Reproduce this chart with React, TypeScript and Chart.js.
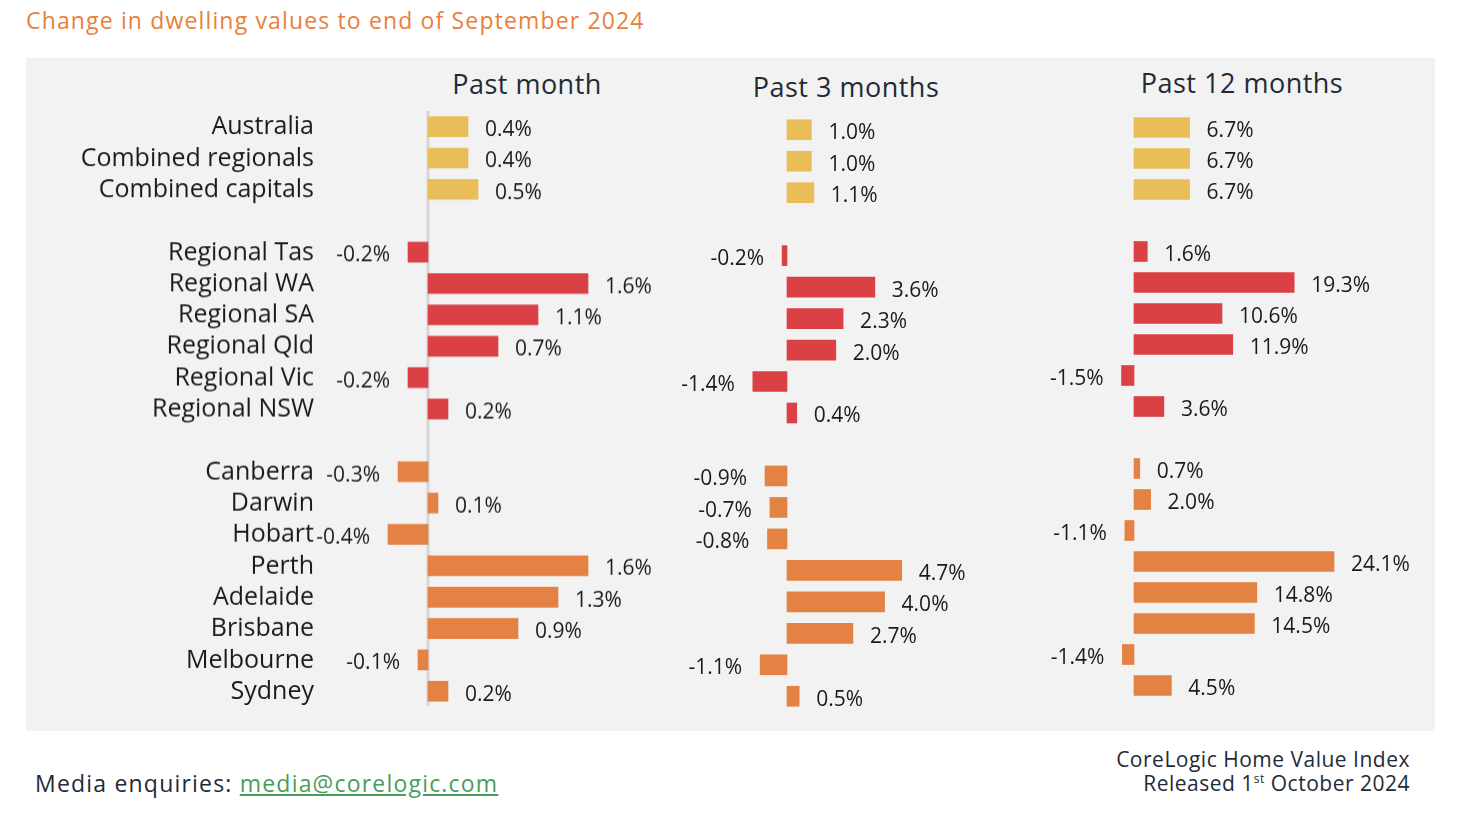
import React, { useEffect, useRef } from "react";
import { Chart, registerables } from "chart.js";

Chart.register(...registerables);

const categories = [
  "Australia",
  "Combined regionals",
  "Combined capitals",
  "",
  "Regional Tas",
  "Regional WA",
  "Regional SA",
  "Regional Qld",
  "Regional Vic",
  "Regional NSW",
  "",
  "Canberra",
  "Darwin",
  "Hobart",
  "Perth",
  "Adelaide",
  "Brisbane",
  "Melbourne",
  "Sydney",
];

const groups = ["nat", "nat", "nat", "", "reg", "reg", "reg", "reg", "reg", "reg", "", "cap", "cap", "cap", "cap", "cap", "cap", "cap", "cap"];

const pastMonth = [0.4, 0.4, 0.5, null, -0.2, 1.6, 1.1, 0.7, -0.2, 0.2, null, -0.3, 0.1, -0.4, 1.6, 1.3, 0.9, -0.1, 0.2];
const past3Months = [1.0, 1.0, 1.1, null, -0.2, 3.6, 2.3, 2.0, -1.4, 0.4, null, -0.9, -0.7, -0.8, 4.7, 4.0, 2.7, -1.1, 0.5];
const past12Months = [6.7, 6.7, 6.7, null, 1.6, 19.3, 10.6, 11.9, -1.5, 3.6, null, 0.7, 2.0, -1.1, 24.1, 14.8, 14.5, -1.4, 4.5];

const panelTitles = ["Past month", "Past 3 months", "Past 12 months"];

const groupColors: Record<string, string> = {
  nat: "#E9BE58",
  reg: "#DB4045",
  cap: "#E38243",
};

const FONT = "'Open Sans', 'Noto Sans', sans-serif";

const valueLabels = {
  id: "valueLabels",
  afterDatasetsDraw(chart: any, _args: any, opts: any) {
    const ctx = chart.ctx;
    const meta = chart.getDatasetMeta(0);
    const data = chart.data.datasets[0].data;
    ctx.save();
    ctx.font = `21px ${FONT}`;
    ctx.fillStyle = "#1b1b1b";
    ctx.textBaseline = "middle";
    meta.data.forEach((bar: any, i: number) => {
      const v = data[i];
      if (v === null || v === undefined) return;
      const { x, y } = bar.getProps(["x", "y"], true);
      const text = `${v.toFixed(1)}%`;
      if (v >= 0) {
        ctx.textAlign = "left";
        ctx.fillText(text, x + 17, y + 3.5);
      } else {
        ctx.textAlign = "right";
        ctx.fillText(text, x - 18, y + 3.5);
      }
    });
    if (opts && opts.categories) {
      const yScale = chart.scales.y;
      ctx.font = `25px ${FONT}`;
      ctx.textAlign = "right";
      ctx.fillStyle = "#1b1b1b";
      categories.forEach((c, i) => {
        if (!c) return;
        ctx.fillText(c, opts.labelRight, yScale.getPixelForValue(i) + 0.5);
      });
    }
    ctx.restore();
  },
};

const zeroLine = {
  id: "zeroLine",
  beforeDatasetsDraw(chart: any, _args: any, opts: any) {
    if (!opts || !opts.show) return;
    const ctx = chart.ctx;
    const x = chart.scales.x.getPixelForValue(0);
    const { top, bottom } = chart.chartArea;
    ctx.save();
    ctx.strokeStyle = "#d6d6d6";
    ctx.lineWidth = 3;
    ctx.beginPath();
    ctx.moveTo(x, top);
    ctx.lineTo(x, bottom + 2);
    ctx.stroke();
    ctx.restore();
  },
};

type PanelProps = {
  values: (number | null)[];
  min: number;
  max: number;
  showLabels: boolean;
  padLeft: number;
  left: number;
  top: number;
  width: number;
  height: number;
};

function Panel({ values, min, max, showLabels, padLeft, left, top, width, height }: PanelProps) {
  const ref = useRef<HTMLCanvasElement | null>(null);
  useEffect(() => {
    if (!ref.current) return;
    const chart = new Chart(ref.current, {
      type: "bar",
      data: {
        labels: categories,
        datasets: [
          {
            data: values as any,
            backgroundColor: groups.map((g) => groupColors[g] || "transparent"),
            barThickness: 20,
            borderWidth: 0,
          },
        ],
      },
      options: {
        indexAxis: "y",
        animation: false,
        responsive: true,
        maintainAspectRatio: false,
        layout: { padding: { left: padLeft, right: 0, top: 0, bottom: 0 } },
        plugins: {
          legend: { display: false },
          tooltip: { enabled: false },
          title: { display: false },
          zeroLine: { show: showLabels },
          valueLabels: { categories: showLabels, labelRight: padLeft - 8 },
        } as any,
        scales: {
          x: { display: false, min, max },
          y: { display: false },
        },
      },
      plugins: [valueLabels, zeroLine],
    });
    return () => chart.destroy();
  }, []);
  return (
    <div style={{ position: "absolute", left, top, width, height }}>
      <canvas ref={ref} />
    </div>
  );
}

export default function App() {
  const headStyle: React.CSSProperties = {
    position: "absolute",
    fontFamily: FONT,
    fontSize: 27,
    letterSpacing: 0.5,
    color: "#1f2b37",
    transform: "translate(-50%, -50%)",
    whiteSpace: "nowrap",
    lineHeight: 1,
  };
  return (
    <div style={{ position: "absolute", left: 0, top: 0, width: 1458, height: 822, background: "#ffffff", fontFamily: FONT, overflow: "hidden" }}>
      <div style={{ position: "absolute", left: 26, top: 7, fontSize: 23, letterSpacing: 1.15, color: "#E8803C", whiteSpace: "nowrap", lineHeight: "26px" }}>
        Change in dwelling values to end of September 2024
      </div>
      <div style={{ position: "absolute", left: 26, top: 58, width: 1409, height: 673, background: "#f2f2f2" }} />
      <div style={{ ...headStyle, left: 527, top: 83 }}>{panelTitles[0]}</div>
      <div style={{ ...headStyle, left: 846, top: 86 }}>{panelTitles[1]}</div>
      <div style={{ ...headStyle, left: 1242, top: 82 }}>{panelTitles[2]}</div>
      <Panel values={pastMonth} min={-1.06} max={2.32} showLabels={true} padLeft={322} left={0} top={111.35} width={660} height={594.9} />
      <Panel values={past3Months} min={-127 / 24.4} max={243 / 24.4} showLabels={false} padLeft={0} left={660} top={113.8} width={370} height={598} />
      <Panel values={past12Months} min={-104 / 8.3} max={301 / 8.3} showLabels={false} padLeft={0} left={1030} top={112} width={405} height={589} />
      <div style={{ position: "absolute", left: 35, top: 769, fontSize: 23, letterSpacing: 1.2, color: "#1f2b37", whiteSpace: "nowrap", lineHeight: "28px" }}>
        Media enquiries:{" "}
        <span style={{ color: "#4a9d5b", textDecoration: "underline" }}>media@corelogic.com</span>
      </div>
      <div style={{ position: "absolute", right: 1458 - 1410, top: 747, fontSize: 21, letterSpacing: 0.5, color: "#1f2b37", textAlign: "right", whiteSpace: "nowrap", lineHeight: "24px" }}>
        <div>CoreLogic Home Value Index</div>
        <div>
          Released 1<sup style={{ fontSize: 12, lineHeight: 0 }}>st</sup> October 2024
        </div>
      </div>
    </div>
  );
}
